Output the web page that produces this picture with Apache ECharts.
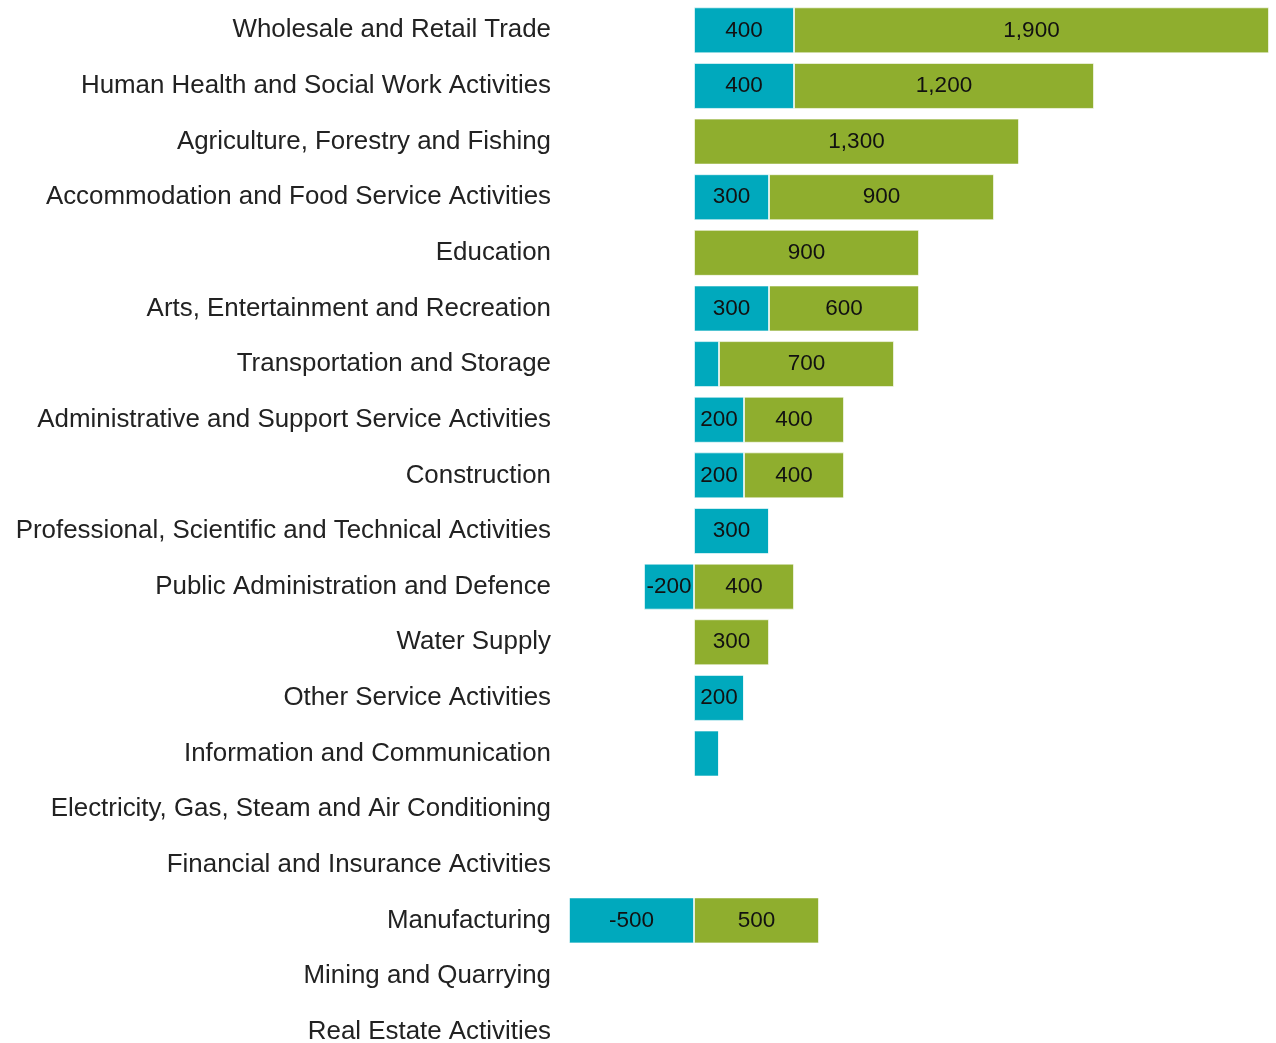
<!DOCTYPE html>
<html>
<head>
<meta charset="utf-8">
<script src="https://cdn.jsdelivr.net/npm/echarts@6/dist/echarts.min.js"></script>
<style>html,body{margin:0;padding:0;background:#fff;}#c{width:1276px;height:1043px;}</style>
</head>
<body>
<div id="c"></div>
<script>
const categories = [
  "Wholesale and Retail Trade",
  "Human Health and Social Work Activities",
  "Agriculture, Forestry and Fishing",
  "Accommodation and Food Service Activities",
  "Education",
  "Arts, Entertainment and Recreation",
  "Transportation and Storage",
  "Administrative and Support Service Activities",
  "Construction",
  "Professional, Scientific and Technical Activities",
  "Public Administration and Defence",
  "Water Supply",
  "Other Service Activities",
  "Information and Communication",
  "Electricity, Gas, Steam and Air Conditioning",
  "Financial and Insurance Activities",
  "Manufacturing",
  "Mining and Quarrying",
  "Real Estate Activities"
];
const blueValues  = [400, 400, 0, 300, 0, 300, 100, 200, 200, 300, -200, 0, 200, 100, 0, 0, -500, 0, 0];
const greenValues = [1900, 1200, 1300, 900, 900, 600, 700, 400, 400, 0, 400, 300, 0, 0, 0, 0, 500, 0, 0];

const fmt = p => {
  const v = p.value;
  if (Math.abs(v) < 150) return '';
  return v.toLocaleString('en-US');
};
const FONT = '"Liberation Sans", Arial, sans-serif';
const labelCfg = { show: true, position: 'inside', color: '#111', fontSize: 22.5, fontFamily: FONT, formatter: fmt };

const chart = echarts.init(document.getElementById('c'), null, { renderer: 'canvas' });
chart.setOption({
  animation: false,
  backgroundColor: '#ffffff',
  grid: { left: 569, width: 700, top: 2.5, height: 1057, containLabel: false, outerBoundsMode: 'none' },
  xAxis: { type: 'value', min: -500, max: 2300, show: false, splitLine: { show: false } },
  yAxis: {
    type: 'category', data: categories, inverse: true,
    axisLine: { show: false }, axisTick: { show: false },
    axisLabel: { color: '#222', fontSize: 25.9, fontFamily: FONT, margin: 18, padding: [4, 0, 0, 0] }
  },
  series: [
    { name: 'A', type: 'bar', stack: 's', data: blueValues, barWidth: 46,
      itemStyle: { color: '#00A9BD', borderColor: 'rgba(255,255,255,0.6)', borderWidth: 1 }, label: labelCfg },
    { name: 'B', type: 'bar', stack: 's', data: greenValues, barWidth: 46,
      itemStyle: { color: '#8FAE2E', borderColor: 'rgba(255,255,255,0.6)', borderWidth: 1 }, label: labelCfg }
  ]
});
</script>
</body>
</html>
